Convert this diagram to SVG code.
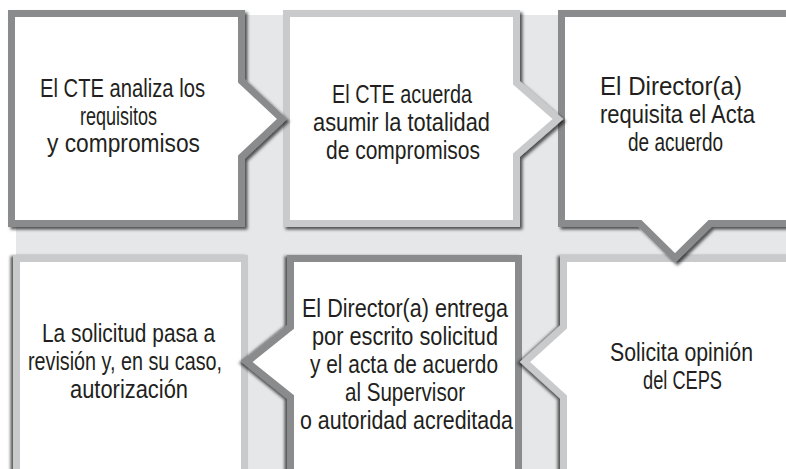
<svg xmlns="http://www.w3.org/2000/svg" width="786" height="469" viewBox="0 0 786 469">
  <defs>
    <filter id="shTop" x="-10%" y="-10%" width="130%" height="130%">
      <feDropShadow dx="2.5" dy="2.5" stdDeviation="1.4" flood-color="#000" flood-opacity="0.65"/>
    </filter>
    <filter id="shBot" x="-10%" y="-10%" width="130%" height="130%">
      <feDropShadow dx="-2.5" dy="1" stdDeviation="1.4" flood-color="#000" flood-opacity="0.65"/>
    </filter>
  </defs>
  <style>
    .box { fill: #ffffff; stroke-width: 7; stroke-linejoin: miter; stroke-miterlimit: 10; }
    .dark { stroke: #8a8b8d; }
    .light { stroke: #c9cacc; }
    .top { filter: url(#shTop); }
    .bot { filter: url(#shBot); }
    text { font-family: "Liberation Sans Narrow", "Liberation Sans", Arial, sans-serif; font-size: 26px; fill: #231f20; }
  </style>
  <rect x="16" y="15" width="770" height="454" fill="#e6e7e8"/>

  <g id="node4">
    <path class="box light bot" d="M16.5 258.5 H244.5 V480 H16.5 Z"/>
    <text x="42" y="342" textLength="173" lengthAdjust="spacingAndGlyphs">La solicitud pasa a</text>
    <text x="28" y="370" textLength="194" lengthAdjust="spacingAndGlyphs">revisión y, en su caso,</text>
    <text x="70" y="398" textLength="118" lengthAdjust="spacingAndGlyphs">autorización</text>
  </g>

  <g id="node5">
    <path class="box dark bot" d="M290.5 258.5 H518.5 V480 H290.5 V397 L247 362 L290.5 327 Z"/>
    <text x="302" y="317" textLength="206" lengthAdjust="spacingAndGlyphs">El Director(a) entrega</text>
    <text x="312" y="345" textLength="186" lengthAdjust="spacingAndGlyphs">por escrito solicitud</text>
    <text x="310" y="373" textLength="188" lengthAdjust="spacingAndGlyphs">y el acta de acuerdo</text>
    <text x="345" y="401" textLength="120" lengthAdjust="spacingAndGlyphs">al Supervisor</text>
    <text x="300" y="429" textLength="213" lengthAdjust="spacingAndGlyphs">o autoridad acreditada</text>
  </g>

  <g id="node6">
    <path class="box light bot" d="M563.5 258.5 H795 V480 H563.5 V397 L525 362 L563.5 327 Z"/>
    <text x="610" y="361" textLength="143" lengthAdjust="spacingAndGlyphs">Solicita opinión</text>
    <text x="643" y="389" textLength="79" lengthAdjust="spacingAndGlyphs">del CEPS</text>
  </g>

  <g id="node3">
    <path class="box dark top" d="M561.5 13.5 H795 V223.5 H710 L675 258 L640 223.5 H561.5 Z"/>
    <text x="600" y="95" textLength="142" lengthAdjust="spacingAndGlyphs">El Director(a)</text>
    <text x="600" y="123" textLength="155" lengthAdjust="spacingAndGlyphs">requisita el Acta</text>
    <text x="628" y="151" textLength="95" lengthAdjust="spacingAndGlyphs">de acuerdo</text>
  </g>

  <g id="node2">
    <path class="box light top" d="M286.5 13.5 H516.5 V83 L558 119 L516.5 155 V223.5 H286.5 Z"/>
    <text x="332" y="103" textLength="140" lengthAdjust="spacingAndGlyphs">El CTE acuerda</text>
    <text x="313" y="131" textLength="177" lengthAdjust="spacingAndGlyphs">asumir la totalidad</text>
    <text x="326" y="159" textLength="154" lengthAdjust="spacingAndGlyphs">de compromisos</text>
  </g>

  <g id="node1">
    <path class="box dark top" d="M11.5 13.5 H241.5 V81 L282 119 L241.5 157 V223.5 H11.5 Z"/>
    <text x="40" y="97" textLength="165" lengthAdjust="spacingAndGlyphs">El CTE analiza los</text>
    <text x="80" y="124.5" textLength="77" lengthAdjust="spacingAndGlyphs">requisitos</text>
    <text x="47" y="152" textLength="153" lengthAdjust="spacingAndGlyphs">y compromisos</text>
  </g>
</svg>
